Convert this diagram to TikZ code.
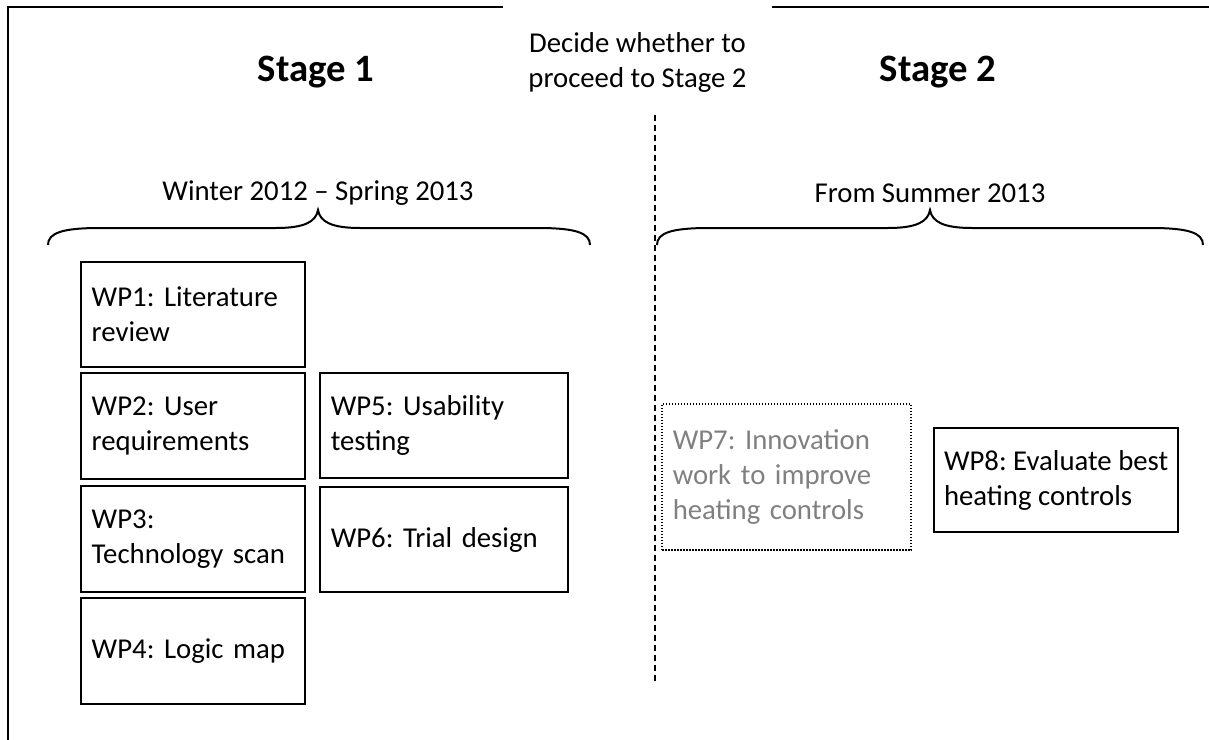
\documentclass[tikz,border=0pt]{standalone}
\usepackage{fontspec}
\setmainfont{Carlito}
\frenchspacing
\definecolor{wpgray}{HTML}{808080}
\begin{document}
\begin{tikzpicture}[x=0.4pt,y=-0.4pt,
  txt/.style={font=\fontsize{11.5}{14}\selectfont},
  head/.style={font=\bfseries\fontsize{15.5}{19}\selectfont},
  wp/.style={draw, line width=0.8pt, inner xsep=4pt, inner ysep=0pt, align=left, txt},
  frameline/.style={line width=0.8pt},
  bracep/.style={line width=0.8pt},
  divider/.style={line width=0.6pt, dash pattern=on 2.4pt off 1.6pt}]
\useasboundingbox (0,0) rectangle (1209,740);
\draw[frameline] (8,740) -- (8,7) -- (1209,7);
\node[txt, fill=white, align=center, minimum width=107.6pt, minimum height=48pt] (decide) at (637.5,62) {Decide whether to\\proceed to Stage 2};
\node[head] (s1) at (316,72) {Stage 1};
\node[head] (s2) at (938,72) {Stage 2};
\coordinate (dtop) at (655,115);
\coordinate (dbot) at (655,685);
\draw[divider] (dtop) -- (dbot);
\node[txt] (w1) at (318,193) {Winter 2012 -- Spring 2013};
\node[txt] (w2) at (930,193) {From Summer 2013};
% braces
\draw[bracep] (48,245) .. controls (48,233) and (62,228) .. (100,228) -- (276,228)
  .. controls (304,228) and (316,222) .. (318,210)
  .. controls (320,222) and (332,228) .. (360,228) -- (538,228)
  .. controls (576,228) and (590,233) .. (590,245);
\draw[bracep] (657,245) .. controls (657,233) and (671,228) .. (709,228) -- (888,228)
  .. controls (916,228) and (928,222) .. (930,210)
  .. controls (932,222) and (944,228) .. (972,228) -- (1151,228)
  .. controls (1189,228) and (1203,233) .. (1203,245);
% work packages
\node[wp, minimum width=89.6pt, minimum height=42pt, text width=81pt] (wp1) at (193,314.5) {WP1: Literature\\review};
\node[wp, minimum width=89.6pt, minimum height=42.4pt, text width=81pt] (wp2) at (193,426) {WP2: User\\requirements};
\node[wp, minimum width=89.6pt, minimum height=42.4pt, text width=81pt] (wp3) at (193,539) {WP3:\\Technology scan};
\node[wp, minimum width=89.6pt, minimum height=42.4pt, text width=81pt] (wp4) at (193,651) {WP4: Logic map};
\node[wp, minimum width=99.2pt, minimum height=42pt, text width=90.6pt] (wp5) at (444,425.5) {WP5: Usability\\testing};
\node[wp, minimum width=99.2pt, minimum height=42pt, text width=90.6pt] (wp6) at (444,539.5) {WP6: Trial design};
\node[wp, draw=black, line width=0.6pt, dash pattern=on 0.6pt off 0.6pt, text=wpgray, minimum width=99.6pt, minimum height=58.4pt, text width=91pt] (wp7) at (786.5,477) {WP7: Innovation\\work to improve\\heating controls};
\node[wp, minimum height=41.6pt, anchor=west] (wp8) at (933,480) {WP8: Evaluate best\\heating controls};
\end{tikzpicture}
\end{document}
